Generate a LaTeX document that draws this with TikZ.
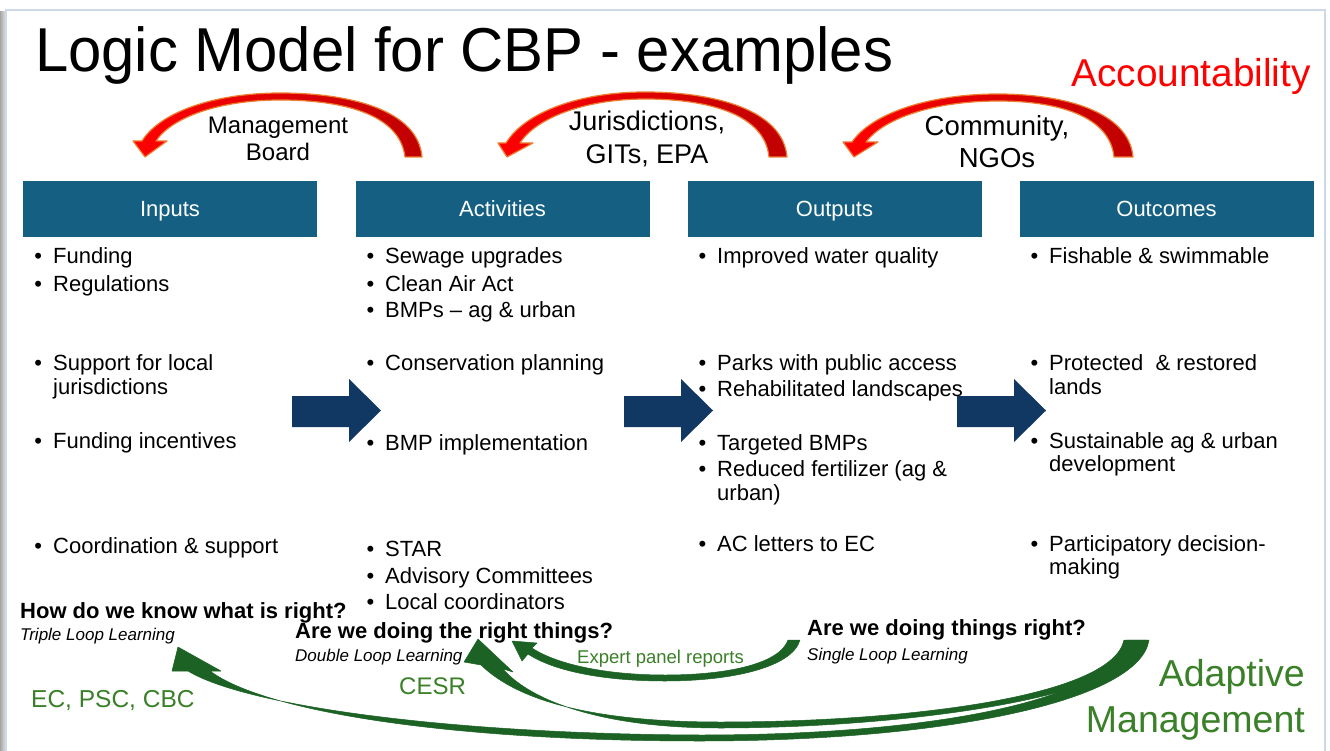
\documentclass[tikz,border=0pt]{standalone}
\usepackage{fontspec}
\setmainfont{Liberation Sans}
\definecolor{hdr}{RGB}{21,96,130}
\definecolor{navy}{RGB}{16,56,98}
\definecolor{garrow}{RGB}{27,98,36}
\definecolor{gtext}{RGB}{58,128,40}
\definecolor{dred}{RGB}{192,0,0}
\definecolor{redline}{RGB}{237,125,49}
\definecolor{framec}{RGB}{205,216,232}
\tikzset{
 hdrbox/.style={fill=hdr, text=white, minimum width=294pt, minimum height=56pt, inner sep=0pt, text height=15.6pt, text depth=0pt, font=\fontsize{22}{24}\selectfont},
 txt/.style={anchor=base west, inner sep=0pt, font=\fontsize{22}{24}\selectfont},
 lbl/.style={anchor=base, inner sep=0pt},
 redarrow/.style={left color=red, right color=dred, draw=redline, line width=1.2pt, line join=round},
 bluearrow/.style={fill=navy},
 greenarrow/.style={fill=garrow, draw=garrow, line width=0.5pt, line join=round},
 question/.style={anchor=base west, inner sep=0pt, font=\bfseries\fontsize{22}{24}\selectfont},
 looplbl/.style={anchor=base west, inner sep=0pt, font=\itshape\fontsize{17}{20}\selectfont},
 gl/.style={inner sep=0pt, text=gtext},
}
\newcommand\bul{\llap{\textbullet\hspace{11pt}}}
\begin{document}
\begin{tikzpicture}[x=1pt,y=-1pt]
\useasboundingbox (0,0) rectangle (1330,751);
\fill[white] (0,0) rectangle (1330,751);
\shade[left color=gray!70, right color=gray!20] (0,12) rectangle (6,751);
\draw[framec, line width=2pt] (6,751) -- (6,10) -- (1325,10) -- (1325,751);

% title
\node[anchor=base west, inner sep=0pt, font=\fontsize{62}{62}\selectfont] (title) at (35,72) {\scalebox{0.965}[1]{Logic Model for CBP - examples}};
\node[anchor=base east, inner sep=0pt, text=red, font=\fontsize{38.8}{40}\selectfont] (acc) at (1311,87) {Accountability};

% red curved arrows
\path[redarrow] (422,157) .. controls (418,110) and (350,93) .. (280,93) .. controls (215,93) and (160,112) .. (142,141) -- (133,141) -- (145,157) -- (167,141) -- (156,141) .. controls (172,117) and (220,100) .. (280,100) .. controls (345,100) and (400,115) .. (405,157) -- cycle;
\path[redarrow] (787,157) .. controls (783,110) and (715,92) .. (645,92) .. controls (580,92) and (525,112) .. (506,143) -- (498,143) -- (507,157) -- (533,143) -- (520,143) .. controls (536,118) and (585,99) .. (645,99) .. controls (710,99) and (765,115) .. (769,157) -- cycle;
\path[redarrow] (1133,157) .. controls (1129,112) and (1065,94) .. (998,94) .. controls (930,94) and (872,113) .. (852,142) -- (843,142) -- (854,157) -- (878,142) -- (866,142) .. controls (884,118) and (935,101) .. (998,101) .. controls (1060,101) and (1110,117) .. (1114,157) -- cycle;

\node[lbl, font=\fontsize{24}{26}\selectfont] (mb1) at (278,134) {Management};
\node[lbl, font=\fontsize{24}{26}\selectfont] (mb2) at (278,161) {Board};
\node[lbl, font=\fontsize{27}{30}\selectfont] (jg1) at (647,131) {Jurisdictions,};
\node[lbl, font=\fontsize{27}{30}\selectfont] (jg2) at (647,164) {GITs, EPA};
\node[lbl, font=\fontsize{27.5}{30}\selectfont] (cn1) at (997,136) {Community,};
\node[lbl, font=\fontsize{27.5}{30}\selectfont] (cn2) at (997,168) {NGOs};

% headers
\node[hdrbox] (hin) at (170,209) {Inputs};
\node[hdrbox] (hact) at (502.5,209) {Activities};
\node[hdrbox] (hout) at (834.5,209) {Outputs};
\node[hdrbox] (hoc) at (1166.5,209) {Outcomes};

% inputs
\node[txt] (in1) at (53,264) {\bul Funding};
\node[txt] (in2) at (53,291) {\bul Regulations};
\node[txt] (in3) at (53,370) {\bul Support for local};
\node[txt] (in3b) at (53,394) {jurisdictions};
\node[txt] (in4) at (53,448) {\bul Funding incentives};
\node[txt] (in5) at (53,553) {\bul Coordination \& support};
% activities
\node[txt] (ac1) at (385,264) {\bul Sewage upgrades};
\node[txt] (ac2) at (385,291) {\bul Clean Air Act};
\node[txt] (ac3) at (385,317) {\bul BMPs – ag \& urban};
\node[txt] (ac4) at (385,370) {\bul Conservation planning};
\node[txt] (ac5) at (385,450) {\bul BMP implementation};
\node[txt] (ac6) at (385,556) {\bul STAR};
\node[txt] (ac7) at (385,583) {\bul Advisory Committees};
\node[txt] (ac8) at (385,609) {\bul Local coordinators};
% outputs
\node[txt] (ou1) at (717,264) {\bul Improved water quality};
\node[txt] (ou2) at (717,370) {\bul Parks with public access};
\node[txt] (ou3) at (717,396) {\bul Rehabilitated landscapes};
\node[txt] (ou4) at (717,450) {\bul Targeted BMPs};
\node[txt] (ou5) at (717,476) {\bul Reduced fertilizer (ag \&};
\node[txt] (ou5b) at (717,500) {urban)};
\node[txt] (ou6) at (717,551) {\bul AC letters to EC};
% outcomes
\node[txt] (oc1) at (1049,264) {\bul Fishable \& swimmable};
\node[txt] (oc2) at (1049,370) {\bul Protected\ \ \& restored};
\node[txt] (oc2b) at (1049,394) {lands};
\node[txt] (oc3) at (1049,448) {\bul Sustainable ag \& urban};
\node[txt] (oc3b) at (1049,471) {development};
\node[txt] (oc4) at (1049,551) {\bul Participatory decision-};
\node[txt] (oc4b) at (1049,574) {making};

% blue block arrows
\foreach \dx in {0,332,665}{
  \fill[bluearrow, xshift=\dx pt] (292,396) -- (349,396) -- (349,379) -- (381,410.5) -- (349,442) -- (349,427) -- (292,427) -- cycle;
}

% green loop arrows
\path[greenarrow] (1149,640) .. controls (1140,700) and (950,741) .. (700,741) .. controls (450,741) and (265,712) .. (210,671) -- (221,671) -- (178,647) -- (172,671) -- (188,671) .. controls (245,706) and (450,734) .. (700,735) .. controls (935,735) and (1110,700) .. (1127,640) -- cycle;
\path[greenarrow] (1147,640) .. controls (1135,698) and (900,728) .. (720,728) .. controls (600,728) and (530,700) .. (503,669) -- (513,672) -- (478,639) -- (464,662) -- (481,665) .. controls (520,703) and (600,722) .. (720,722) .. controls (900,722) and (1112,698) .. (1124,640) -- cycle;
\path[greenarrow] (800,640) .. controls (792,668) and (730,681) .. (665,681) .. controls (600,681) and (552,670) .. (528,654) -- (522,661) -- (512,641) -- (537,643) -- (532,648) .. controls (556,664) and (605,675) .. (665,675) .. controls (730,675) and (780,663) .. (788,640) -- cycle;

% questions
\node[question] (q3) at (20,618) {How do we know what is right?};
\node[looplbl] (l3) at (20,640) {Triple Loop Learning};
\node[question] (q2) at (295,638) {Are we doing the right things?};
\node[looplbl] (l2) at (295,661) {Double Loop Learning};
\node[question] (q1) at (807,635) {Are we doing things right?};
\node[looplbl] (l1) at (807,660) {Single Loop Learning};

\node[gl, anchor=base west, font=\fontsize{18.5}{20}\selectfont] (exp) at (577,663) {Expert panel reports};
\node[gl, anchor=base west, font=\fontsize{24}{26}\selectfont] (cesr) at (399,694) {CESR};
\node[gl, anchor=base west, font=\fontsize{24.5}{26}\selectfont] (ec) at (31,707) {EC, PSC, CBC};
\node[gl, anchor=base east, font=\fontsize{37.5}{40}\selectfont] (am1) at (1305,686) {Adaptive};
\node[gl, anchor=base east, font=\fontsize{37.5}{40}\selectfont] (am2) at (1305,732) {Management};
\end{tikzpicture}
\end{document}
